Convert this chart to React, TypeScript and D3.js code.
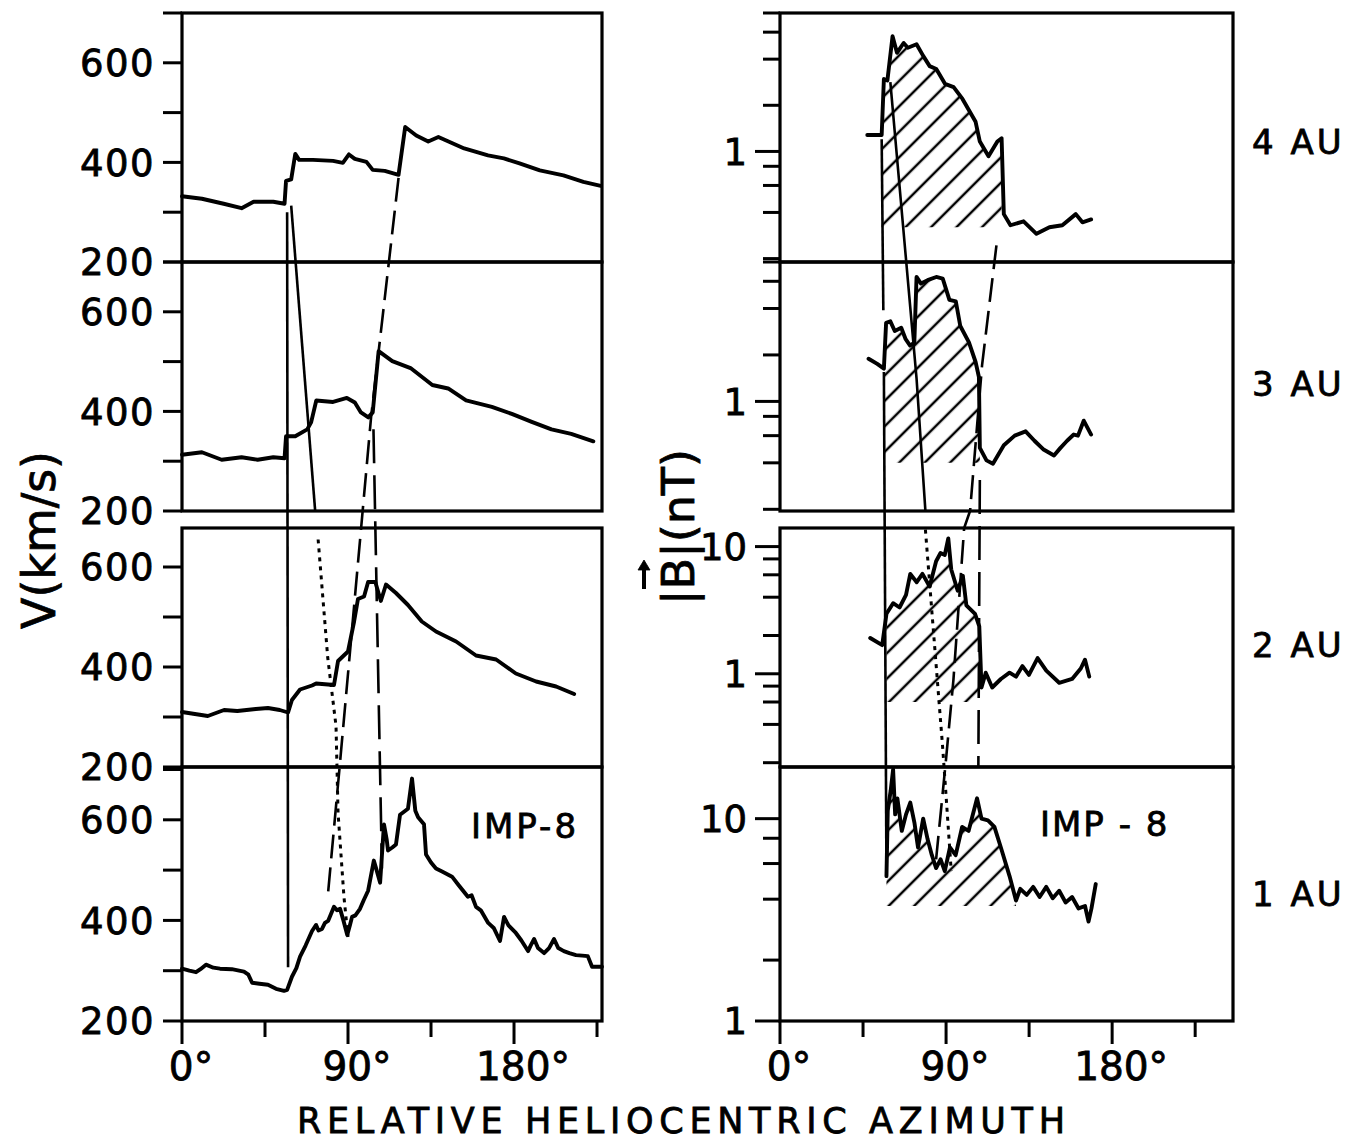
import React from "react";
import * as d3 from "d3";

type Pt = [number, number]; // [azimuth in degrees, value]
type Guide = [number, number, number]; // [azimuth in degrees, row index, value]

const rowNames = ["4 AU", "3 AU", "2 AU", "1 AU"];

const speedTicks = [200, 300, 400, 500, 600, 700];
const speedLabels = [200, 400, 600];
const fieldTicks = [0.2, 0.4, 0.6, 0.8, 1, 2, 4, 6, 8, 10];
const fieldLabels = [1, 10];
const azTicks = [0, 45, 90, 135, 180, 225];
const azLabels = [0, 90, 180];

const speedRanges: Pt[] = [[200, 700], [200, 700], [200, 678], [200, 705]];
const fieldRanges: Pt[] = [[0.19, 8], [0.195, 8], [0.185, 14], [1, 18]];

// solar wind speed, km/s
const speed4AU: Pt[] = [
  [0, 332], [10.8, 327], [22.6, 317], [32.3, 308], [38.8, 321], [49.5, 321], [55.6, 317],
  [56.4, 363], [59.2, 366], [61.4, 417], [63.5, 405], [71, 405], [81.9, 403], [87.2, 399],
  [90.5, 416], [93.7, 407], [100, 401], [103.4, 385], [109.9, 383], [117.4, 375], [121, 471],
  [127, 454], [133.5, 442], [139, 451], [153, 428], [165.9, 414], [174.5, 408], [183, 398],
  [194, 384], [206.8, 374], [217.6, 361], [227, 353],
];
const speed3AU: Pt[] = [
  [0, 313], [10.8, 318], [21.5, 303], [32.3, 308], [41, 303], [49.5, 308], [55.6, 306],
  [56.4, 350], [61.4, 350], [67.9, 364], [70, 378], [72.8, 422], [81.9, 419], [89.4, 427],
  [93.7, 418], [97, 398], [101, 388], [103.4, 398], [106.6, 521], [114, 501], [123.9, 487],
  [135.7, 453], [144.3, 446], [154, 422], [168, 409], [178.8, 395], [189.6, 379], [200.3, 364],
  [211, 355], [223, 340],
];
const speed2AU: Pt[] = [
  [0, 310], [14, 302], [22.8, 314], [30, 312], [40, 316], [46.6, 318], [53, 314], [57.5, 309],
  [59.6, 334], [64, 355], [70.5, 363], [72.7, 367], [82.4, 364], [84.6, 412], [90, 431],
  [93.3, 491], [95.4, 536], [98.7, 541], [100.9, 570], [104.8, 570], [107.8, 532], [110.6, 565],
  [116, 548], [122.5, 524], [130, 491], [137.7, 471], [148.6, 451], [159.4, 423], [170.3, 415],
  [181, 387], [192, 371], [202.8, 361], [212.6, 346],
];
const speed1AU: Pt[] = [
  [0, 304], [4, 300], [7.6, 297], [10, 303], [13, 312], [17, 306], [20.6, 304], [27, 303],
  [33.6, 298], [36, 292], [38, 276], [42, 274], [46.6, 272], [51, 264], [55.3, 260], [57, 262],
  [59.6, 288], [62, 305], [64, 328], [67, 350], [70.5, 379], [72.7, 391], [74, 380], [75.9, 383],
  [77.5, 395], [79.2, 399], [82.4, 427], [84, 420], [85.7, 423], [87.5, 400], [89.6, 371],
  [91, 390], [92.2, 407], [94, 410], [96.5, 423], [98.5, 440], [100.9, 459], [104, 519],
  [105.5, 500], [107.4, 475], [109.5, 591], [111, 560], [111.7, 539], [114, 545], [116, 551],
  [118.2, 610], [120, 615], [122.5, 622], [124.7, 682], [126.5, 618], [128, 605], [131.2, 591],
  [132.3, 531], [135, 515], [137.7, 503], [141, 497], [146.4, 487], [150, 470], [155, 447],
  [157, 450], [159.4, 427], [162, 420], [166, 395], [169, 385], [172.4, 359], [174.6, 407],
  [177, 390], [181, 375], [184, 360], [187.6, 339], [189, 350], [190.9, 363], [193, 345],
  [196.3, 335], [199, 345], [201.7, 363], [204, 345], [207, 339], [210, 335], [213.6, 331],
  [217, 330], [220, 329], [222.3, 308], [227.7, 308],
];

// field magnitude, nT
const field4AU: Pt[] = [
  [47.3, 1.28], [55.1, 1.28], [56.3, 2.97], [58.2, 2.9], [61, 5.65], [63.4, 4.4], [67, 5.1],
  [69.3, 4.75], [74, 5.0], [77.6, 4.2], [81.1, 3.6], [84.7, 3.45], [89.4, 2.76], [94.1, 2.63],
  [98.9, 2.2], [106, 1.56], [108.3, 1.16], [113, 0.93], [117.8, 1.16], [120.1, 1.22],
  [121.3, 0.39], [124.9, 0.33], [132, 0.35], [139, 0.29], [146, 0.32], [153, 0.33],
  [160.3, 0.39], [163.9, 0.345], [168.6, 0.36],
];
const field3AU: Pt[] = [
  [48, 1.89], [52.7, 1.75], [56.3, 1.63], [57.5, 3.23], [59.8, 3.3], [62.2, 2.86], [65.7, 3.0],
  [68.1, 2.53], [70.5, 2.3], [72.8, 2.4], [74, 6.4], [76.4, 5.8], [80, 6.1], [84.7, 6.4],
  [88.2, 6.25], [91.8, 4.55], [95.3, 4.44], [97.7, 3.08], [102.4, 2.41], [106, 1.8],
  [107.8, 1.44], [108.3, 0.5], [111.9, 0.415], [115.4, 0.395], [121.3, 0.52], [127.2, 0.6],
  [133.1, 0.64], [137.9, 0.556], [142.6, 0.49], [148.5, 0.446], [152, 0.5], [155.6, 0.556],
  [159.2, 0.61], [161.5, 0.6], [164.6, 0.75], [168.6, 0.61],
];
const field2AU: Pt[] = [
  [48.9, 1.91], [55.4, 1.68], [57.7, 2.96], [61.3, 3.59], [64.8, 3.32], [68.3, 4.17],
  [70.6, 6.1], [74.1, 5.25], [77.2, 6.1], [81.1, 4.86], [84.6, 7.67], [87, 8.9], [89.3, 8.6],
  [91.2, 11.6], [92.8, 6.6], [96.3, 4.5], [99.1, 5.9], [101, 3.45], [105.7, 2.96], [108, 2.36],
  [109.2, 0.78], [111.5, 1.02], [115, 0.78], [119.7, 0.91], [124.4, 1.02], [127.9, 0.95],
  [131.4, 1.15], [134.9, 0.98], [139.6, 1.33], [144.3, 1.06], [151.3, 0.85], [158.3, 0.91],
  [163, 1.1], [165.3, 1.29], [167.6, 0.95],
];
const field1AU: Pt[] = [
  [57.7, 5.2], [58.4, 10.96], [60, 13.8], [61.3, 17.5], [62.4, 10.5], [63.6, 12.6], [66, 8.7],
  [68.3, 10.5], [70.6, 12.0], [72.9, 9.5], [74.8, 7.2], [77.6, 10], [80, 7.9], [82.3, 6.6],
  [84.6, 5.7], [87, 6.3], [89.3, 5.5], [92.1, 7.2], [95.2, 6.6], [98.7, 9.1], [102.2, 8.7],
  [106.8, 12.6], [109.2, 10], [112.7, 9.8], [116.2, 9.1], [119.7, 7.2], [124.4, 5.2],
  [127.9, 3.94], [130.2, 4.5], [133.7, 4.2], [137.2, 4.6], [140.7, 4.1], [144.3, 4.6],
  [147.8, 4.04], [151.3, 4.4], [154.8, 3.85], [158.3, 4.1], [161.8, 3.6], [165.3, 3.7],
  [167.2, 3.1], [168.8, 3.6], [171.1, 4.75],
];

// hatched regions: [start deg, end deg, lower level nT]
const hatchSpans: [number, number, number][] = [
  [55.1, 120.1, 0.32], [56.3, 108.3, 0.4], [57.7, 108, 0.6], [57.7, 127.9, 3.7],
];

// connecting lines drawn across the rows
const speedSolidVertical: Guide[] = [[57, 0, 300], [57.5, 3, 307]];
const speedSolidSlant: Guide[] = [[59.2, 0, 313], [72.2, 1, 200]];
const speedDotted: Guide[] = [[73.8, 2, 655], [79, 2, 419], [83.5, 2, 282], [84.6, 3, 614], [87.8, 3, 447], [90, 3, 367]];
const speedDashed: Guide[] = [[117.4, 0, 369], [102.5, 1, 388], [85.7, 2, 210], [79, 3, 447]];
const speedLongDash: Guide[] = [[103.8, 1, 364], [108.4, 3, 503]];

const fieldSolidVertical: Guide[][] = [
  [[55.1, 0, 1.2], [56, 1, 3.9]],
  [[56.3, 1, 1.55], [57.7, 3, 5.2]],
];
const fieldSolidSlant: Guide[] = [[59.8, 0, 2.83], [74, 1, 1.41], [78.8, 1, 0.195]];
const fieldDotted: Guide[] = [[78.8, 2, 13.6], [82.3, 2, 3.1], [88.1, 2, 0.27], [89.8, 3, 13.8], [92.8, 3, 5.5]];
const fieldDashed: Guide[] = [[117.3, 0, 0.244], [109.5, 1, 1.71], [103, 1, 0.195], [99.8, 2, 14], [94, 2, 0.9], [89.8, 2, 0.2], [84.6, 3, 6.3]];
const fieldLongDash: Guide[] = [[108.3, 1, 0.31], [107.5, 2, 0.185]];

const ROW_TOP = [13, 262, 528, 767];
const ROW_BOTTOM = [262, 511, 767, 1021];
const ROW_LABEL_BASE = [154, 396, 657, 906];
const FONT = "'DejaVu Sans', 'Liberation Sans', sans-serif";

export default function App() {
  const xV = d3.scaleLinear().domain([0, 227.7]).range([182, 602]);
  const xB = d3.scaleLinear().domain([0, 245.5]).range([780, 1233]);
  const yV = speedRanges.map((d, i) => d3.scaleLinear().domain(d).range([ROW_BOTTOM[i], ROW_TOP[i]]));
  const yB = fieldRanges.map((d, i) => d3.scaleLog().domain(d).range([ROW_BOTTOM[i], ROW_TOP[i]]));

  const speedSeries = [speed4AU, speed3AU, speed2AU, speed1AU];
  const fieldSeries = [field4AU, field3AU, field2AU, field1AU];

  const speedLine = (i: number) => d3.line<Pt>().x((d) => xV(d[0])).y((d) => yV[i](d[1]));
  const fieldLine = (i: number) => d3.line<Pt>().x((d) => xB(d[0])).y((d) => yB[i](d[1]));
  const speedGuide = d3.line<Guide>().x((d) => xV(d[0])).y((d) => yV[d[1]](d[2]));
  const fieldGuide = d3.line<Guide>().x((d) => xB(d[0])).y((d) => yB[d[1]](d[2]));

  const hatchPath = (i: number) => {
    const [a, b, base] = hatchSpans[i];
    const pts = fieldSeries[i].filter((p) => p[0] >= a && p[0] <= b);
    return d3
      .area<Pt>()
      .x((d) => xB(d[0]))
      .y0(yB[i](base))
      .y1((d) => yB[i](d[1]))(pts) as string;
  };

  const inRange = (t: number, [lo, hi]: Pt) => t >= lo * 0.999 && t <= hi * 1.001;

  const [vx0, vx1] = xV.range();
  const [bx0, bx1] = xB.range();
  const axisY = ROW_BOTTOM[3];

  return (
    <svg
      width={1358}
      height={1144}
      style={{ position: "absolute", left: 0, top: 0, background: "#fff" }}
      fontFamily={FONT}
    >
      <defs>
        <pattern id="hatch" patternUnits="userSpaceOnUse" width={18} height={18} patternTransform="rotate(45)">
          <line x1={9} y1={0} x2={9} y2={18} stroke="#000" strokeWidth={2.5} />
        </pattern>
      </defs>
      <rect width={1358} height={1144} fill="#fff" />

      {/* frames */}
      {rowNames.map((_, i) => (
        <g key={`frame${i}`} fill="none" stroke="#000" strokeWidth={3.2}>
          <rect x={vx0} y={ROW_TOP[i]} width={vx1 - vx0} height={ROW_BOTTOM[i] - ROW_TOP[i]} />
          <rect x={bx0} y={ROW_TOP[i]} width={bx1 - bx0} height={ROW_BOTTOM[i] - ROW_TOP[i]} />
        </g>
      ))}

      {/* speed axis ticks */}
      {yV.map((y, i) => (
        <g key={`vt${i}`}>
          {speedTicks.filter((t) => inRange(t, speedRanges[i])).map((t) => (
            <line key={t} x1={vx0 - 19} x2={vx0} y1={y(t)} y2={y(t)} stroke="#000" strokeWidth={3} />
          ))}
        </g>
      ))}

      {/* field axis ticks */}
      {yB.map((y, i) => (
        <g key={`bt${i}`}>
          {fieldTicks.filter((t) => inRange(t, fieldRanges[i])).map((t) => {
            const major = fieldLabels.includes(t);
            return (
              <line key={t} x1={bx0 - (major ? 25 : 17)} x2={bx0} y1={y(t)} y2={y(t)} stroke="#000" strokeWidth={3} />
            );
          })}
        </g>
      ))}

      {/* azimuth ticks */}
      {[xV, xB].map((x, c) => (
        <g key={`az${c}`}>
          {azTicks.filter((t) => t <= x.domain()[1]).map((t) => (
            <line
              key={t}
              x1={x(t)}
              x2={x(t)}
              y1={axisY}
              y2={axisY + (azLabels.includes(t) ? 23 : 16)}
              stroke="#000"
              strokeWidth={3}
            />
          ))}
        </g>
      ))}

      {/* hatched regions */}
      {rowNames.map((_, i) => (
        <path key={`h${i}`} d={hatchPath(i)} fill="url(#hatch)" stroke="none" />
      ))}

      {/* guide lines, speed column */}
      <g fill="none" stroke="#000" strokeWidth={2.6}>
        <path d={speedGuide(speedSolidVertical) as string} />
        <path d={speedGuide(speedSolidSlant) as string} />
        <path d={speedGuide(speedDotted) as string} strokeDasharray="4,5" strokeWidth={3} />
        <path d={speedGuide(speedDashed) as string} strokeDasharray="24,9" />
        <path d={speedGuide(speedLongDash) as string} strokeDasharray="34,12" />
      </g>

      {/* guide lines, field column */}
      <g fill="none" stroke="#000" strokeWidth={2.6}>
        {fieldSolidVertical.map((g, k) => (
          <path key={k} d={fieldGuide(g) as string} />
        ))}
        <path d={fieldGuide(fieldSolidSlant) as string} />
        <path d={fieldGuide(fieldDotted) as string} strokeDasharray="4,5" strokeWidth={3} />
        <path d={fieldGuide(fieldDashed) as string} strokeDasharray="24,9" />
        <path d={fieldGuide(fieldLongDash) as string} strokeDasharray="34,12" />
      </g>

      {/* data */}
      <g fill="none" stroke="#000" strokeWidth={3.9} strokeLinejoin="round" strokeLinecap="round">
        {speedSeries.map((s, i) => (
          <path key={`v${i}`} d={speedLine(i)(s) as string} />
        ))}
        {fieldSeries.map((s, i) => (
          <path key={`b${i}`} d={fieldLine(i)(s) as string} />
        ))}
      </g>

      {/* all text, slightly stroked to match the heavy lettering */}
      <g fill="#000" stroke="#000" strokeWidth={0.8}>
        {yV.map((y, i) =>
          speedLabels.filter((t) => inRange(t, speedRanges[i])).map((t) => (
            <text key={`vl${i}-${t}`} x={vx0 - 27} y={y(t)} dy="0.36em" textAnchor="end" fontSize={37} letterSpacing={1.5}>
              {t}
            </text>
          ))
        )}
        {yB.map((y, i) =>
          fieldLabels.filter((t) => inRange(t, fieldRanges[i])).map((t) => (
            <text key={`bl${i}-${t}`} x={bx0 - 33} y={y(t)} dy="0.36em" textAnchor="end" fontSize={37}>
              {t}
            </text>
          ))
        )}
        {[xV, xB].map((x, c) =>
          azLabels.map((t) => (
            <text key={`al${c}-${t}`} x={x(t) + 9} y={1080} textAnchor="middle" fontSize={39}>
              {`${t}°`}
            </text>
          ))
        )}

        {rowNames.map((name, i) => (
          <text key={name} x={1252} y={ROW_LABEL_BASE[i]} fontSize={34} letterSpacing={3}>
            {name}
          </text>
        ))}
        <text x={471} y={838} fontSize={34} letterSpacing={3}>IMP-8</text>
        <text x={1040} y={836} fontSize={34} letterSpacing={2}>IMP - 8</text>

        <g transform="translate(55,540) rotate(-90)">
          <text x={0} textAnchor="middle" fontSize={47} textLength={178} lengthAdjust="spacingAndGlyphs">
            V(km/s)
          </text>
        </g>
        <g transform="translate(694,527) rotate(-90)">
          <text x={-78} fontSize={45} textLength={156} lengthAdjust="spacingAndGlyphs">
            |B|(nT)
          </text>
          <line x1={-62} x2={-40} y1={-50} y2={-50} strokeWidth={4} />
          <path d="M-33,-50 L-43,-56 L-43,-44 Z" />
        </g>

        <text x={681} y={1133} textAnchor="middle" fontSize={35} textLength={768} lengthAdjust="spacing">
          RELATIVE HELIOCENTRIC AZIMUTH
        </text>
      </g>
    </svg>
  );
}
